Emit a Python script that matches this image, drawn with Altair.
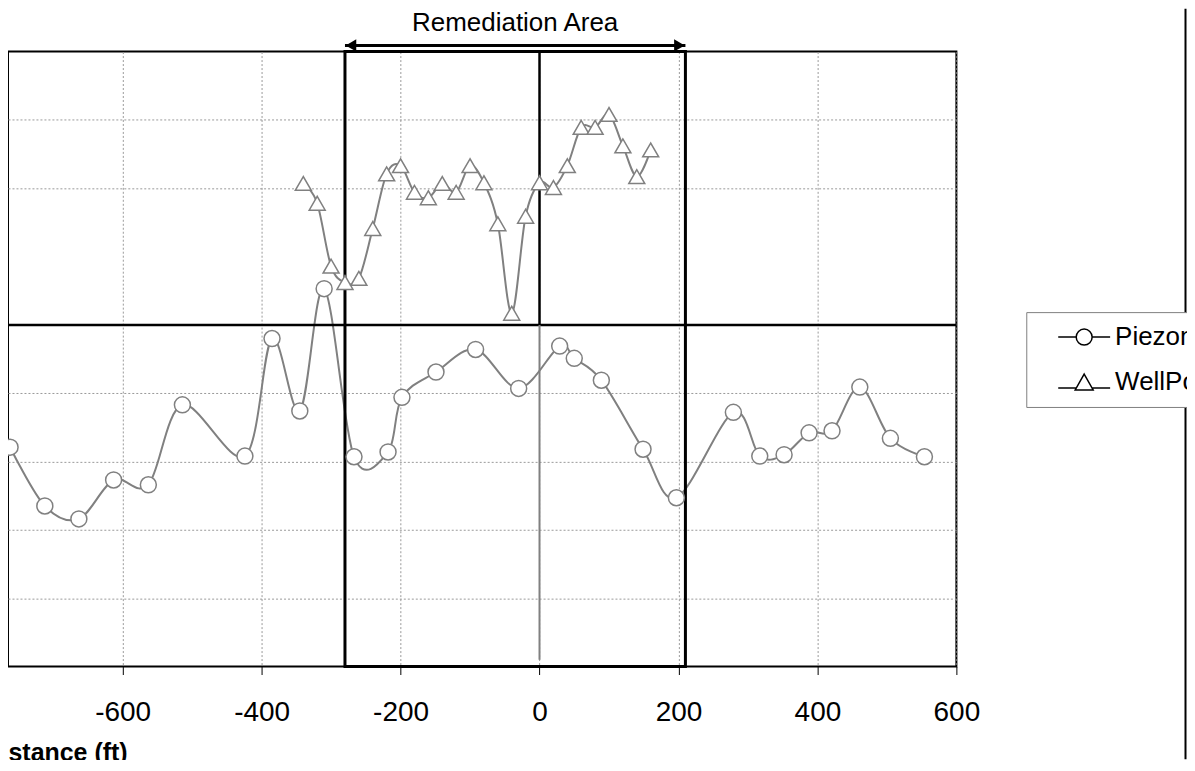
import altair as alt
import pandas as pd

FONT = "Liberation Sans"

# ---- data ----
SERIES = ["Piezometer", "WellPoint"]

piezo_x = [-762, -712, -663, -613, -563, -514, -424, -385, -345, -310, -267, -218, -198, -149,
           -92, -30, 29, 50, 89, 149, 197, 279, 317, 352, 388, 421, 461, 505, 554]
piezo_y = [3.21, 2.35, 2.16, 2.73, 2.66, 3.83, 3.08, 4.80, 3.74, 5.53, 3.07, 3.14, 3.94, 4.31,
           4.64, 4.07, 4.69, 4.51, 4.19, 3.18, 2.47, 3.72, 3.08, 3.10, 3.42, 3.45, 4.09, 3.34, 3.07]

well_x = [-340, -320, -300, -280, -260, -240, -220, -200, -180, -160, -140, -120, -100,
          -80, -60, -40, -20, 0, 20, 40, 60, 80, 100, 120, 140, 160]
well_y = [7.07, 6.78, 5.86, 5.62, 5.68, 6.41, 7.21, 7.33, 6.94, 6.86, 7.07, 6.94, 7.33,
          7.08, 6.48, 5.17, 6.59, 7.08, 7.01, 7.33, 7.89, 7.89, 8.08, 7.62, 7.17, 7.56]

x_ticks = [-600, -400, -200, 0, 200, 400, 600]
y_grid = [1, 2, 3, 4, 7, 8]
x_domain = [-765, 600]
y_domain = [0, 9]

remediation = [-280, 210]
remediation_label = "Remediation Area"
arrow_y = 9.09
label_y = 9.42
divider_y = 5

df = pd.concat([
    pd.DataFrame({"x": piezo_x, "y": piezo_y, "series": SERIES[0]}),
    pd.DataFrame({"x": well_x, "y": well_y, "series": SERIES[1]}),
])

xscale = alt.Scale(domain=x_domain, nice=False, zero=False)
yscale = alt.Scale(domain=y_domain, nice=False, zero=False)

xaxis = alt.Axis(values=x_ticks, grid=True, gridColor="#9a9a9a", gridDash=[2, 2], gridWidth=1,
                 labelFont=FONT, labelFontSize=28, labelColor="black", labelPadding=24,
                 labelFlush=False, labelOverlap=False, labelExpr="'' + datum.value",
                 tickSize=8, tickColor="black", tickWidth=1, domain=False,
                 title="Distance (ft)", titleFont=FONT, titleFontSize=25, titleFontWeight="bold",
                 titleColor="black", titleX=-25, titleY=94, titleAlign="left",
                 titleBaseline="alphabetic", titleAnchor="start")
yaxis = alt.Axis(values=y_grid, grid=True, gridColor="#9a9a9a", gridDash=[2, 2], gridWidth=1,
                 labels=False, ticks=False, domain=False, title=None)

lines = alt.Chart(df).mark_line(interpolate="cardinal", color="#808080", strokeWidth=2).encode(
    x=alt.X("x:Q", scale=xscale, axis=xaxis),
    y=alt.Y("y:Q", scale=yscale, axis=yaxis),
    detail="series:N",
)

points = alt.Chart(df).mark_point(filled=True, fill="white", stroke="#808080", strokeWidth=1.5,
                                  size=256, opacity=1).encode(
    x="x:Q", y="y:Q",
    shape=alt.Shape("series:N", scale=alt.Scale(domain=SERIES, range=["circle", "triangle-up"]),
                    legend=None),
)

rem_df = pd.DataFrame({"x": [remediation[0]], "x2": [remediation[1]],
                       "y": [y_domain[0]], "y2": [y_domain[1]]})
rem_rect = alt.Chart(rem_df).mark_rect(fill="transparent", stroke="black", strokeWidth=3).encode(
    x="x:Q", x2="x2:Q", y="y:Q", y2="y2:Q")

hline = alt.Chart(pd.DataFrame({"y": [divider_y]})).mark_rule(color="black", strokeWidth=2.5).encode(
    y="y:Q")

vtop = alt.Chart(pd.DataFrame({"x": [0], "y": [divider_y], "y2": [y_domain[1]]})).mark_rule(
    color="black", strokeWidth=2.5).encode(x="x:Q", y="y:Q", y2="y2:Q")
vbot = alt.Chart(pd.DataFrame({"x": [0], "y": [0.1], "y2": [divider_y]})).mark_rule(
    color="#808080", strokeWidth=2).encode(x="x:Q", y="y:Q", y2="y2:Q")

arrow_df = pd.DataFrame({"x": [remediation[0]], "x2": [remediation[1]], "y": [arrow_y]})
arrow = alt.Chart(arrow_df).mark_rule(color="black", strokeWidth=3, clip=False).encode(
    x="x:Q", x2="x2:Q", y="y:Q")
head_l = alt.Chart(pd.DataFrame({"x": [remediation[0]], "y": [arrow_y]})).mark_point(
    shape="triangle-left", filled=True, color="black", size=150, opacity=1, xOffset=6).encode(
    x="x:Q", y="y:Q")
head_r = alt.Chart(pd.DataFrame({"x": [remediation[1]], "y": [arrow_y]})).mark_point(
    shape="triangle-right", filled=True, color="black", size=150, opacity=1, xOffset=-6).encode(
    x="x:Q", y="y:Q")
label = alt.Chart(pd.DataFrame({"x": [(remediation[0] + remediation[1]) / 2], "y": [label_y],
                                "t": [remediation_label]})).mark_text(
    font=FONT, fontSize=26, color="black", align="center", baseline="middle").encode(
    x="x:Q", y="y:Q", text="t:N")

path_circle = "M-2.6,0H-0.8M0.8,0H2.6M0.8,0A0.8,0.8,0,1,1,-0.8,0A0.8,0.8,0,1,1,0.8,0"
path_tri = "M-2.6,0.6H-0.79M0.79,0.6H2.6M0,-0.8L0.9,0.8L-0.9,0.8Z"

legend_layer = alt.Chart(df).transform_filter("false").mark_point(
    filled=False, color="black", strokeWidth=1.5, size=400, opacity=1).encode(
    shape=alt.Shape("series:N", scale=alt.Scale(domain=SERIES, range=[path_circle, path_tri]),
                    legend=alt.Legend(title=None, orient="none", legendX=1020, legendY=261,
                                      padding=12, strokeColor="#808080", fillColor="white",
                                      labelFont=FONT, labelFontSize=26, labelColor="black",
                                      symbolSize=400, symbolStrokeColor="black",
                                      symbolStrokeWidth=1.5, symbolOpacity=1,
                                      symbolOffset=33, labelOffset=18, rowPadding=19,
                                      labelLimit=400)),
)

border = alt.Chart(pd.DataFrame({"a": [0]})).mark_rule(color="black", strokeWidth=2).encode(
    x=alt.value(1179.5), y=alt.value(-43), y2=alt.value(709))

chart = alt.layer(
    lines, rem_rect, hline, vbot, vtop, points, arrow, head_l, head_r, label, legend_layer, border
).resolve_scale(shape="independent").properties(
    width=950, height=616,
    padding={"left": 0, "top": 43, "right": 231, "bottom": 93},
    autosize=alt.AutoSizeParams(type="none"),
    background="white",
).configure_view(stroke="black", strokeWidth=2)

chart.save("out.html", embed_options={"renderer": "svg", "actions": False})
